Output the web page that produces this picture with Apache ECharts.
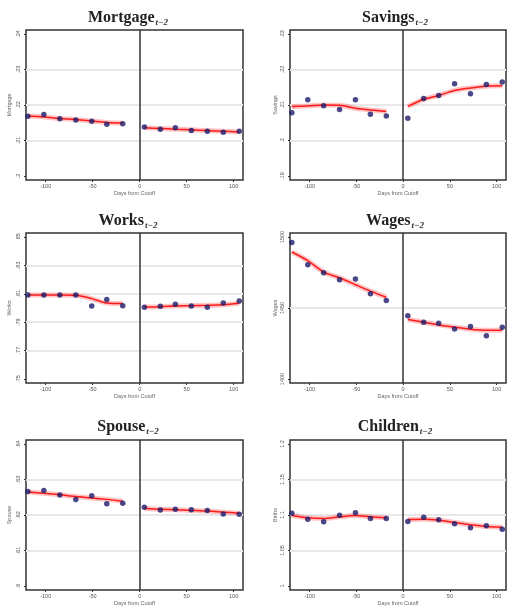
<!DOCTYPE html>
<html>
<head>
<meta charset="utf-8">
<script src="https://cdn.jsdelivr.net/npm/echarts@6/dist/echarts.min.js"></script>
<style>
  html, body { margin: 0; padding: 0; background: #fff; }
  #main { width: 507px; height: 606px; }
</style>
</head>
<body>
<div id="main"></div>
<script>
// 两侧的分箱中心（距截止日天数）
const leftDays = [-119, -102, -85, -68, -51, -35, -18];
const rightDays = [5, 22, 38, 55, 72, 89, 106];
const dayTicks = [-100, -50, 0, 50, 100];

// 每个面板：散点均值 + 平滑拟合（前7个在截止日前，后7个在截止日后）
const mortgagePts = [0.2168, 0.2173, 0.2161, 0.2158, 0.2154, 0.2146, 0.2147, 0.2138, 0.2132, 0.2136, 0.2128, 0.2126, 0.2123, 0.2126];
const mortgageFit = [0.2169, 0.2166, 0.2162, 0.2159, 0.2155, 0.2151, 0.2149, 0.2136, 0.2134, 0.2132, 0.2130, 0.2128, 0.2126, 0.2124];
const savingsPts = [0.2078, 0.2115, 0.2098, 0.2087, 0.2115, 0.2074, 0.2069, 0.2063, 0.2118, 0.2127, 0.2160, 0.2132, 0.2158, 0.2165];
const savingsFit = [0.2096, 0.2097, 0.2100, 0.2099, 0.2091, 0.2086, 0.2082, 0.2096, 0.2116, 0.2127, 0.2141, 0.2148, 0.2153, 0.2154];
const worksPts = [0.8092, 0.8092, 0.8092, 0.8092, 0.8014, 0.8059, 0.8016, 0.8005, 0.8012, 0.8026, 0.8014, 0.8005, 0.8035, 0.8049];
const worksFit = [0.8092, 0.8092, 0.8092, 0.8089, 0.8066, 0.8035, 0.8031, 0.8007, 0.8009, 0.8014, 0.8016, 0.8019, 0.8023, 0.8033];
const wagesPts = [1496.2, 1480.5, 1474.8, 1469.9, 1470.4, 1460.0, 1455.3, 1444.5, 1440.0, 1439.3, 1435.3, 1436.9, 1430.4, 1436.5];
const wagesFit = [1489.4, 1483.3, 1475.3, 1471.3, 1466.4, 1461.9, 1457.6, 1441.9, 1440.0, 1438.1, 1436.5, 1435.1, 1434.4, 1434.4];
const spousePts = [0.6266, 0.6269, 0.6256, 0.6244, 0.6254, 0.6232, 0.6233, 0.6222, 0.6214, 0.6216, 0.6215, 0.6213, 0.6203, 0.6202];
const spouseFit = [0.6265, 0.6261, 0.6257, 0.6252, 0.6248, 0.6244, 0.6239, 0.6219, 0.6216, 0.6215, 0.6213, 0.6211, 0.6208, 0.6205];
const childrenPts = [1.1026, 1.0941, 1.0904, 1.0998, 1.1030, 1.0951, 1.0951, 1.0909, 1.0970, 1.0932, 1.0876, 1.0820, 1.0848, 1.0801];
const childrenFit = [1.0993, 1.0960, 1.0951, 1.0974, 1.0993, 1.0974, 1.0960, 1.0937, 1.0941, 1.0927, 1.0895, 1.0862, 1.0838, 1.0829];

// y 轴刻度
const mortgageTicks = [0.2, 0.21, 0.22, 0.23, 0.24];
const savingsTicks = [0.19, 0.2, 0.21, 0.22, 0.23];
const worksTicks = [0.75, 0.77, 0.79, 0.81, 0.83, 0.85];
const wagesTicks = [1400, 1450, 1500];
const spouseTicks = [0.6, 0.61, 0.62, 0.63, 0.64];
const childrenTicks = [1, 1.05, 1.1, 1.15, 1.2];

const panels = [
  { title: "Mortgage", yName: "Mortgage", pts: mortgagePts, fit: mortgageFit, ticks: mortgageTicks },
  { title: "Savings", yName: "Savings", pts: savingsPts, fit: savingsFit, ticks: savingsTicks },
  { title: "Works", yName: "Works", pts: worksPts, fit: worksFit, ticks: worksTicks },
  { title: "Wages", yName: "Wages", pts: wagesPts, fit: wagesFit, ticks: wagesTicks },
  { title: "Spouse", yName: "Spouse", pts: spousePts, fit: spouseFit, ticks: spouseTicks },
  { title: "Children", yName: "Births", pts: childrenPts, fit: childrenFit, ticks: childrenTicks },
];

const rowTop = [30, 233, 440];
const colLeft = [26, 290];
const colWidth = [217, 216];
const titleX = [123, 390];
const titleY = [3, 206, 412];

const fmt = (v) => String(+v.toFixed(3)).replace(/^0\./, ".");

const titles = [];
const grids = [];
const xAxes = [];
const yAxes = [];
const series = [];

panels.forEach((p, i) => {
  const row = Math.floor(i / 2);
  const col = i % 2;
  titles.push({
    text: "{a|" + p.title + "}{b|t−2}",
    left: titleX[col],
    top: titleY[row],
    textAlign: "center",
    textStyle: {
      rich: {
        a: { fontFamily: "Liberation Serif", fontWeight: "bold", fontSize: 16, color: "#222" },
        b: { fontFamily: "Liberation Serif", fontStyle: "italic", fontSize: 9, color: "#333", padding: [10, 0, 0, 1] },
      },
    },
  });
  grids.push({
    left: colLeft[col],
    top: rowTop[row],
    width: colWidth[col],
    height: 150,
    show: true,
    borderColor: "#333",
    borderWidth: 1.5,
    outerBoundsMode: "none",
  });
  xAxes.push({
    gridIndex: i,
    type: "value",
    min: -121,
    max: 110,
    name: "Days from Cutoff",
    nameLocation: "middle",
    nameGap: 10,
    nameTextStyle: { fontSize: 5.5, color: "#666" },
    axisLine: { show: false, onZero: false },
    axisTick: { show: true, length: 2, customValues: dayTicks, lineStyle: { color: "#333" } },
    axisLabel: { customValues: dayTicks, fontSize: 5.5, color: "#555", margin: 3 },
    splitLine: { show: false },
  });
  const lo = p.ticks[0];
  const hi = p.ticks[p.ticks.length - 1];
  const pad = (hi - lo) * 0.028;
  yAxes.push({
    gridIndex: i,
    type: "value",
    min: lo - pad,
    max: hi + pad,
    name: p.yName,
    nameLocation: "middle",
    nameGap: col === 0 ? 14 : 12,
    nameTextStyle: { fontSize: 5.5, color: "#666" },
    axisLine: { show: false, onZero: false },
    axisTick: { show: true, length: 2, customValues: p.ticks, lineStyle: { color: "#333" } },
    axisLabel: {
      customValues: p.ticks,
      rotate: 90,
      fontSize: 5.5,
      color: "#555",
      margin: 5,
      formatter: fmt,
    },
    splitLine: { show: false },
  });

  const pts = p.pts.map((v, k) => [k < 7 ? leftDays[k] : rightDays[k - 7], v]);
  const fit = p.fit.map((v, k) => [k < 7 ? leftDays[k] : rightDays[k - 7], v]);
  const inner = p.ticks.slice(1, -1);

  [fit.slice(0, 7), fit.slice(7)].forEach((seg, s) => {
    series.push({
      type: "line",
      xAxisIndex: i,
      yAxisIndex: i,
      data: seg,
      smooth: 0.3,
      symbol: "none",
      silent: true,
      z: 3,
      lineStyle: { color: "rgba(255,60,60,0.3)", width: 5 },
      markLine: s === 0 ? {
        silent: true,
        symbol: ["none", "none"],
        label: { show: false },
        lineStyle: { color: "#e8e8e8", width: 2, type: "solid" },
        data: inner.map((t) => ({ yAxis: t })),
        z: 1,
      } : {
        silent: true,
        symbol: ["none", "none"],
        label: { show: false },
        lineStyle: { color: "#333", width: 1.5, type: "solid" },
        data: [{ xAxis: 0 }],
      },
    });
    series.push({
      type: "line",
      xAxisIndex: i,
      yAxisIndex: i,
      data: seg,
      smooth: 0.3,
      symbol: "none",
      silent: true,
      z: 4,
      lineStyle: { color: "#ff1a1a", width: 1.5 },
    });
  });
  series.push({
    type: "scatter",
    xAxisIndex: i,
    yAxisIndex: i,
    data: pts,
    symbolSize: 5.5,
    z: 5,
    itemStyle: { color: "#1c1c6b" },
  });
});

const myChart = echarts.init(document.getElementById("main"));
myChart.setOption({
  animation: false,
  backgroundColor: "#fff",
  title: titles,
  grid: grids,
  xAxis: xAxes,
  yAxis: yAxes,
  series: series,
});
</script>
</body>
</html>
